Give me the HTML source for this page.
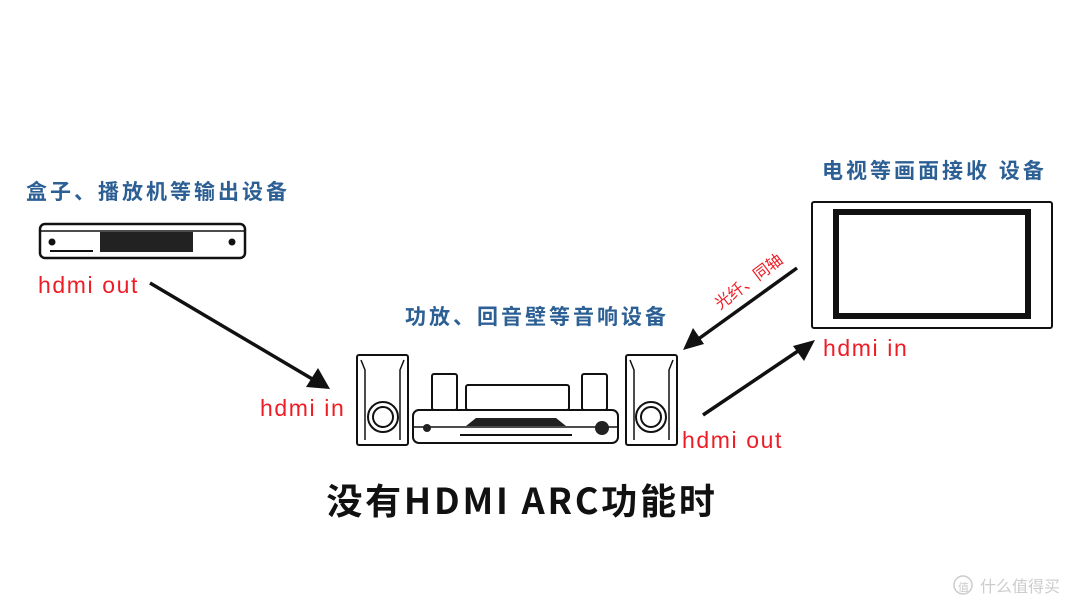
<!DOCTYPE html>
<html><head><meta charset="utf-8"><style>
html,body{margin:0;padding:0;background:#fff;}
svg{display:block}
.b{fill:#2c5f94;font-family:"Liberation Sans","Noto Sans CJK SC",sans-serif;font-size:21px;font-weight:bold;letter-spacing:3px}
.r{fill:#ee1c25;font-family:"Liberation Sans",sans-serif;font-size:23px;letter-spacing:1.6px}
</style></head><body>
<svg width="1080" height="609" viewBox="0 0 1080 609" xmlns="http://www.w3.org/2000/svg">
<rect width="1080" height="609" fill="#fff"/>
<text class="b" x="26" y="199">盒子、播放机等输出设备</text>
<text class="b" x="405" y="324">功放、回音壁等音响设备</text>
<text class="b" x="822" y="178">电视等画面接收 设备</text>

<!-- box -->
<rect x="40" y="224" width="205" height="34" rx="5" fill="#fff" stroke="#111" stroke-width="2.5"/>
<line x1="41" y1="231" x2="244" y2="231" stroke="#111" stroke-width="1.5"/>
<rect x="100" y="232" width="93" height="20" fill="#222"/>
<circle cx="52" cy="242" r="3.5" fill="#111"/>
<circle cx="232" cy="242" r="3.5" fill="#111"/>
<line x1="50" y1="251" x2="93" y2="251" stroke="#111" stroke-width="2"/>

<!-- TV -->
<rect x="812" y="202" width="240" height="126" rx="2" fill="#fff" stroke="#111" stroke-width="2"/>
<rect x="836" y="212" width="192" height="104" fill="#fff" stroke="#111" stroke-width="6"/>

<!-- speakers -->
<g fill="#fff" stroke="#111" stroke-width="2">
<rect x="357" y="355" width="51" height="90" rx="2"/>
<path d="M361 360 l4 10 v70 M404 360 l-4 10 v70" fill="none" stroke-width="1.5"/>
<circle cx="383" cy="417" r="15"/><circle cx="383" cy="417" r="10"/>
<rect x="626" y="355" width="51" height="90" rx="2"/>
<path d="M630 360 l4 10 v70 M673 360 l-4 10 v70" fill="none" stroke-width="1.5"/>
<circle cx="651" cy="417" r="15"/><circle cx="651" cy="417" r="10"/>
<!-- amp -->
<rect x="432" y="374" width="25" height="36" rx="2"/>
<rect x="582" y="374" width="25" height="36" rx="2"/>
<rect x="466" y="385" width="103" height="25" rx="2"/>
<rect x="413" y="410" width="205" height="33" rx="6"/>
<line x1="414" y1="427" x2="617" y2="427" stroke-width="1.5"/>
</g>
<path d="M466 426 l10 -8 h80 l10 8 z" fill="#222"/>
<line x1="460" y1="435" x2="572" y2="435" stroke="#111" stroke-width="2"/>
<circle cx="427" cy="428" r="4" fill="#222"/>
<circle cx="602" cy="428" r="7" fill="#222"/>

<!-- arrows -->
<g stroke="#111" stroke-width="3.5" fill="#111">
<line x1="150" y1="283" x2="314" y2="380"/>
<polygon points="330,389 306,387 318,368" stroke="none"/>
<line x1="797" y1="268" x2="697" y2="340"/>
<polygon points="683,350 693,328 704,344" stroke="none"/>
<line x1="703" y1="415" x2="801" y2="349"/>
<polygon points="815,340 804,361 793,346" stroke="none"/>
</g>

<text class="r" x="38" y="293">hdmi out</text>
<text class="r" x="260" y="416">hdmi in</text>
<text class="r" x="682" y="448">hdmi out</text>
<text class="r" x="823" y="356">hdmi in</text>
<text x="0" y="0" transform="translate(720,310) rotate(-37)" style="fill:#ee1c25;font-family:'Noto Sans CJK SC',sans-serif;font-size:16px">光纤、同轴</text>

<text x="522" y="514" text-anchor="middle" style="fill:#111;font-family:'Noto Sans CJK SC',sans-serif;font-weight:bold;font-size:36px;letter-spacing:2.8px">没有HDMI ARC功能时</text>

<g fill="#ccc" font-family="'Noto Sans CJK SC',sans-serif" font-size="16">
<circle cx="963" cy="585" r="9" fill="none" stroke="#ccc" stroke-width="1.5"/>
<text x="958" y="591" font-size="11">值</text>
<text x="980" y="592">什么值得买</text>
</g>
</svg>
</body></html>
